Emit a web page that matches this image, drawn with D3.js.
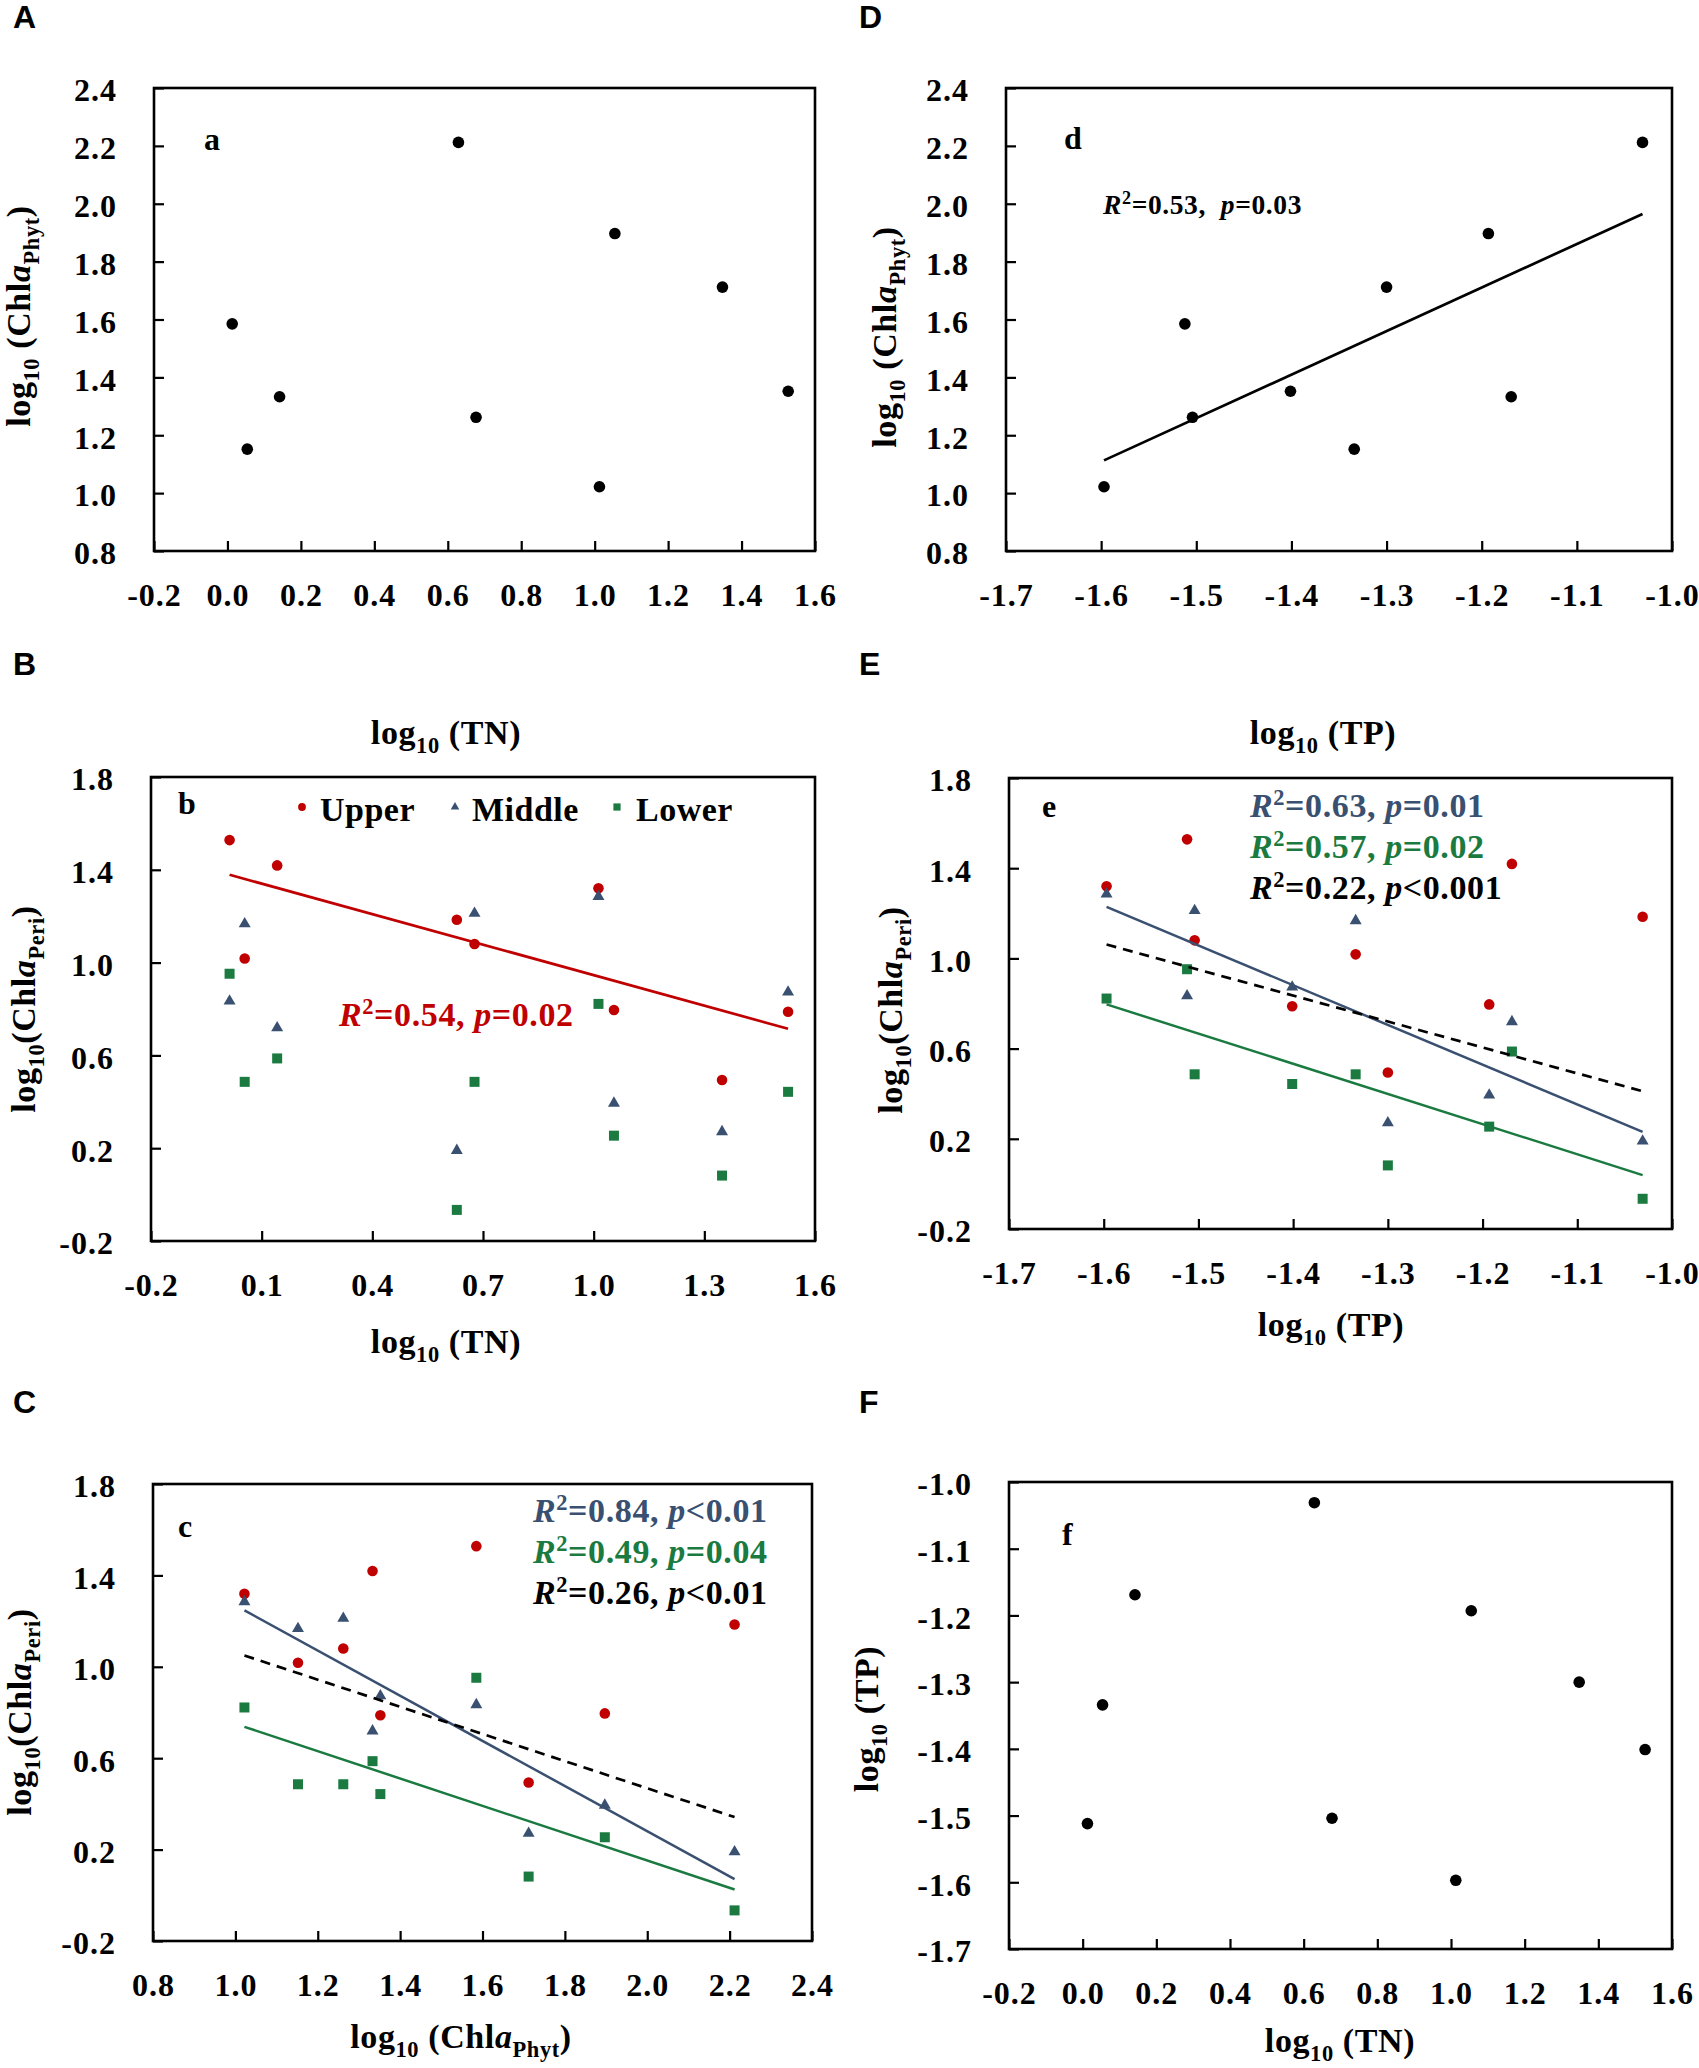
<!doctype html>
<html>
<head>
<meta charset="utf-8"/>
<title>Chla vs nutrients</title>
<script src="https://cdn.jsdelivr.net/npm/d3@7"></script>
<style>
  body { margin: 0; background: #fff; }
  text { white-space: pre; }
</style>
</head>
<body>
<svg id="fig" width="1699" height="2068"></svg>
<script>
// nine sampling sites, ordered by TN
var logTN   = [0.013, 0.054, 0.142, 0.629, 0.677, 1.013, 1.055, 1.348, 1.527];
var logTP   = [-1.512, -1.334, -1.169, -1.031, -1.504, -1.597, -1.193, -1.300, -1.401];
var chlPhyt = [1.585, 1.152, 1.333, 2.212, 1.262, 1.022, 1.897, 1.712, 1.352];

// periphyton chla per zone
var periUpper  = [1.528, 1.018, 1.419, 1.185, 1.080, 1.320, 0.796, 0.494, 0.788];
var periMiddle = [0.834, 1.167, 0.719, 0.190, 1.212, 1.285, 0.394, 0.271, 0.873];
var periLower  = [0.952, 0.486, 0.587, -0.066, 0.486, 0.822, 0.254, 0.082, 0.443];

var zoneNames  = ["Upper", "Middle", "Lower"];
var zoneColors = ["#c00000", "#3a5070", "#1a7a40"];

// tick values
var ticksTN   = [-0.2, 0.0, 0.2, 0.4, 0.6, 0.8, 1.0, 1.2, 1.4, 1.6];
var ticksTNb  = [-0.2, 0.1, 0.4, 0.7, 1.0, 1.3, 1.6];
var ticksTP   = [-1.7, -1.6, -1.5, -1.4, -1.3, -1.2, -1.1, -1.0];
var ticksPhyt = [0.8, 1.0, 1.2, 1.4, 1.6, 1.8, 2.0, 2.2, 2.4];
var ticksPeri = [-0.2, 0.2, 0.6, 1.0, 1.4, 1.8];

// regression statistics printed on the panels
var statsB = [["0.54", "=", "0.02"]];
var statsC = [["0.84", "<", "0.01"], ["0.49", "=", "0.04"], ["0.26", "<", "0.01"]];
var statsD = [["0.53", "=", "0.03"]];
var statsE = [["0.63", "=", "0.01"], ["0.57", "=", "0.02"], ["0.22", "<", "0.001"]];

var SERIF = '"Liberation Serif","Times New Roman",serif';
var SANS = '"Liberation Sans",Arial,sans-serif';
var svg = d3.select("#fig");

var labTN   = [{t: "log"}, {t: "10", sub: 1}, {t: " (TN)"}];
var labTP   = [{t: "log"}, {t: "10", sub: 1}, {t: " (TP)"}];
var labPhyt = [{t: "log"}, {t: "10", sub: 1}, {t: " (Chl"}, {t: "a", it: 1}, {t: "Phyt", sub: 1}, {t: ")"}];
var labPeri = [{t: "log"}, {t: "10", sub: 1}, {t: "(Chl"}, {t: "a", it: 1}, {t: "Peri", sub: 1}, {t: ")"}];

function fmt(d) { return (Math.round(d * 10) / 10).toFixed(1); }

function richText(parent, x, y, parts, size, opt) {
  opt = opt || {};
  var t = parent.append("text").attr("x", x).attr("y", y)
    .attr("font-family", SERIF).attr("font-weight", "bold").attr("font-size", size)
    .attr("fill", opt.color || "#000").attr("text-anchor", opt.anchor || "start")
    .attr("letter-spacing", opt.ls == null ? 0.6 : opt.ls);
  if (opt.rotate) t.attr("transform", "rotate(-90," + x + "," + y + ")");
  var shift = 0;
  parts.forEach(function(p) {
    var target = p.sub ? size * 0.27 : (p.sup ? -size * 0.36 : 0);
    var s = t.append("tspan").text(p.t);
    if (target - shift !== 0) s.attr("dy", target - shift);
    if (p.sub || p.sup) s.attr("font-size", size * 0.66);
    if (p.it) s.attr("font-style", "italic");
    shift = target;
  });
  return t;
}

function statParts(s, spacer) {
  return [{t: "R", it: 1}, {t: "2", sup: 1}, {t: "=" + s[0] + "," + (spacer || " ")},
          {t: "p", it: 1}, {t: s[1] + s[2]}];
}

// least squares line over the x range of the data
function fitLine(xs, ys) {
  var mx = d3.mean(xs), my = d3.mean(ys);
  var sxy = d3.sum(xs, function(v, i) { return (v - mx) * (ys[i] - my); });
  var sxx = d3.sum(xs, function(v) { return (v - mx) * (v - mx); });
  var b = sxy / sxx, a = my - b * mx;
  return d3.extent(xs).map(function(v) { return [v, a + b * v]; });
}

function panel(o) {
  var x = d3.scaleLinear().domain(d3.extent(o.xTicks)).range([o.l, o.r]);
  var y = d3.scaleLinear().domain(d3.extent(o.yTicks)).range([o.b, o.t]);
  var g = svg.append("g");

  var xa = g.append("g").attr("transform", "translate(0," + o.b + ")")
    .call(d3.axisBottom(x).tickValues(o.xTicks).tickFormat(fmt).tickSizeInner(-10).tickSizeOuter(0));
  var ya = g.append("g").attr("transform", "translate(" + o.l + ",0)")
    .call(d3.axisLeft(y).tickValues(o.yTicks).tickFormat(fmt).tickSizeInner(-10).tickSizeOuter(0));
  [xa, ya].forEach(function(a) {
    a.attr("font-family", SERIF).attr("font-size", 32).attr("font-weight", "bold");
    a.select(".domain").remove();
    a.selectAll(".tick line").attr("stroke", "#000").attr("stroke-width", 2.2);
    a.selectAll(".tick text").attr("fill", "#000").attr("letter-spacing", 1);
  });
  xa.selectAll(".tick text").attr("y", 55).attr("dy", null);
  ya.selectAll(".tick text").attr("x", -37).attr("dy", "0.4em");

  g.append("rect").attr("x", o.l).attr("y", o.t)
    .attr("width", o.r - o.l).attr("height", o.b - o.t)
    .attr("fill", "none").attr("stroke", "#000").attr("stroke-width", 2.6);

  // panel letter and inner tag
  g.append("text").attr("x", o.letterPos[0]).attr("y", o.letterPos[1])
    .attr("font-family", SANS).attr("font-weight", "bold").attr("font-size", 32)
    .text(o.letter);
  g.append("text").attr("x", o.tagPos[0]).attr("y", o.tagPos[1])
    .attr("font-family", SERIF).attr("font-weight", "bold").attr("font-size", 32)
    .text(o.tag);

  richText(g, o.xTitle[0], o.xTitle[1], o.xLab, 34, {anchor: "middle"});
  richText(g, o.yTitle[0], o.yTitle[1], o.yLab, 34, {anchor: "middle", rotate: true});

  return {g: g, x: x, y: y};
}

function blackDots(P, xs, ys) {
  P.g.append("g").selectAll("circle").data(xs).enter().append("circle")
    .attr("cx", function(d) { return P.x(d); })
    .attr("cy", function(d, i) { return P.y(ys[i]); })
    .attr("r", 5.8).attr("fill", "#000");
}

var symTypes = [d3.symbolCircle, d3.symbolTriangle, d3.symbolSquare];
var symSizes = [88, 62, 100];

function zoneMarks(P, xs) {
  var zones = [periUpper, periMiddle, periLower];
  zones.forEach(function(ys, z) {
    P.g.append("g").selectAll("path").data(xs).enter().append("path")
      .attr("d", d3.symbol().type(symTypes[z]).size(symSizes[z]))
      .attr("transform", function(d, i) { return "translate(" + P.x(d) + "," + P.y(ys[i]) + ")"; })
      .attr("fill", zoneColors[z]);
  });
}

function drawFit(P, pts, color, width, dash) {
  var line = d3.line().x(function(d) { return P.x(d[0]); }).y(function(d) { return P.y(d[1]); });
  P.g.append("path").attr("d", line(pts)).attr("fill", "none")
    .attr("stroke", color).attr("stroke-width", width)
    .attr("stroke-dasharray", dash || null);
}

function threeFits(P, xs) {
  drawFit(P, fitLine(xs, periMiddle), zoneColors[1], 2.5);
  drawFit(P, fitLine(xs, periLower), zoneColors[2], 2.5);
  var allX = xs.concat(xs, xs);
  var allY = periUpper.concat(periMiddle, periLower);
  drawFit(P, fitLine(allX, allY), "#000", 2.7, "10,7");
}

// A: Chla phyto vs TN
var A = panel({l: 154, r: 815, t: 88, b: 551, xTicks: ticksTN, yTicks: ticksPhyt,
  letter: "A", letterPos: [13, 28], tag: "a", tagPos: [204, 150],
  xLab: labTN, xTitle: [446, 744], yLab: labPhyt, yTitle: [30, 316]});
blackDots(A, logTN, chlPhyt);

// D: Chla phyto vs TP
var D = panel({l: 1006, r: 1672, t: 88, b: 551, xTicks: ticksTP, yTicks: ticksPhyt,
  letter: "D", letterPos: [859, 28], tag: "d", tagPos: [1064, 149],
  xLab: labTP, xTitle: [1323, 744], yLab: labPhyt, yTitle: [896, 337]});
blackDots(D, logTP, chlPhyt);
drawFit(D, fitLine(logTP, chlPhyt), "#000", 2.7);
richText(D.g, 1103, 214, statParts(statsD[0], "  "), 27.5);

// B: Chla peri vs TN
var B = panel({l: 151, r: 815, t: 777, b: 1241, xTicks: ticksTNb, yTicks: ticksPeri,
  letter: "B", letterPos: [13, 675], tag: "b", tagPos: [178, 814],
  xLab: labTN, xTitle: [446, 1353], yLab: labPeri, yTitle: [35, 1009]});
zoneMarks(B, logTN);
drawFit(B, fitLine(logTN, periUpper), zoneColors[0], 2.7);
richText(B.g, 339, 1026, statParts(statsB[0]), 34, {color: zoneColors[0]});

// legend for the zones
var legX = [[302, 320], [455, 472], [617, 636]];
var legSizes = [48, 32, 52];
zoneNames.forEach(function(name, z) {
  B.g.append("path").attr("d", d3.symbol().type(symTypes[z]).size(legSizes[z]))
    .attr("transform", "translate(" + legX[z][0] + ",807)").attr("fill", zoneColors[z]);
  B.g.append("text").attr("x", legX[z][1]).attr("y", 821)
    .attr("font-family", SERIF).attr("font-weight", "bold").attr("font-size", 34)
    .attr("letter-spacing", 0.5).text(name);
});

// E: Chla peri vs TP
var E = panel({l: 1009, r: 1672, t: 778, b: 1229, xTicks: ticksTP, yTicks: ticksPeri,
  letter: "E", letterPos: [859, 675], tag: "e", tagPos: [1042, 817],
  xLab: labTP, xTitle: [1331, 1336], yLab: labPeri, yTitle: [902, 1010]});
zoneMarks(E, logTP);
threeFits(E, logTP);
var statColors = [zoneColors[1], zoneColors[2], "#000"];
statsE.forEach(function(s, i) {
  richText(E.g, 1250, 817 + i * 41, statParts(s), 34, {color: statColors[i]});
});

// C: Chla peri vs Chla phyto
var C = panel({l: 153, r: 812, t: 1484, b: 1941, xTicks: ticksPhyt, yTicks: ticksPeri,
  letter: "C", letterPos: [13, 1413], tag: "c", tagPos: [178, 1537],
  xLab: labPhyt, xTitle: [461, 2048], yLab: labPeri, yTitle: [31, 1712]});
zoneMarks(C, chlPhyt);
threeFits(C, chlPhyt);
statsC.forEach(function(s, i) {
  richText(C.g, 533, 1522 + i * 41, statParts(s), 34, {color: statColors[i]});
});

// F: TP vs TN
var F = panel({l: 1009, r: 1672, t: 1482, b: 1949, xTicks: ticksTN, yTicks: ticksTP,
  letter: "F", letterPos: [859, 1413], tag: "f", tagPos: [1062, 1545],
  xLab: labTN, xTitle: [1340, 2052], yLab: labTP, yTitle: [878, 1719]});
blackDots(F, logTN, logTP);
</script>
</body>
</html>
